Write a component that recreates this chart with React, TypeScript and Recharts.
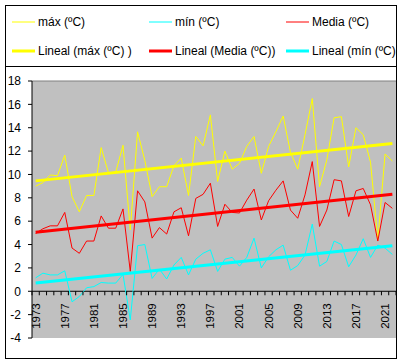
import React from 'react'
import { LineChart, Line, XAxis, YAxis, CartesianGrid, ReferenceLine } from 'recharts'

const years = [
  1973, 1974, 1975, 1976, 1977, 1978, 1979, 1980, 1981, 1982,
  1983, 1984, 1985, 1986, 1987, 1988, 1989, 1990, 1991, 1992,
  1993, 1994, 1995, 1996, 1997, 1998, 1999, 2000, 2001, 2002,
  2003, 2004, 2005, 2006, 2007, 2008, 2009, 2010, 2011, 2012,
  2013, 2014, 2015, 2016, 2017, 2018, 2019, 2020, 2021, 2022,
]

const maxT = [
  9.0, 9.3, 9.95, 9.9, 11.65, 8.1, 6.8, 8.2, 8.2, 12.3,
  10.15, 10.2, 12.5, 5.25, 13.65, 11.2, 8.1, 8.95, 8.95, 10.75,
  11.4, 8.2, 13.25, 12.45, 15.1, 9.4, 12.0, 10.45, 10.95, 12.4,
  13.25, 10.1, 12.4, 13.65, 15.0, 11.9, 10.45, 13.4, 16.5, 8.95,
  11.25, 14.85, 14.95, 10.65, 14.0, 13.4, 11.05, 4.4, 11.75, 11.15,
]

const minT = [
  1.15, 1.55, 1.4, 1.4, 1.75, -0.9, -0.45, 0.3, 0.4, 0.75,
  0.7, 0.7, 1.45, -2.45, 3.9, 4.0, 1.1, 1.9, 1.05, 2.25,
  2.9, 1.4, 2.75, 3.25, 3.55, 1.7, 2.75, 2.9, 2.15, 2.9,
  4.55, 2.0, 2.95, 3.55, 3.95, 1.8, 2.2, 3.1, 5.75, 2.15,
  2.55, 4.3, 4.0, 2.1, 3.1, 4.5, 2.9, 3.95, 3.7, 3.15,
]

const mediaT = [
  4.95, 5.35, 5.6, 5.6, 6.75, 3.7, 3.25, 4.3, 4.3, 6.45,
  5.4, 5.4, 7.05, 1.7, 8.6, 7.65, 4.55, 5.45, 4.9, 6.8,
  7.15, 4.75, 7.95, 8.3, 9.25, 5.55, 7.45, 6.75, 6.7, 7.8,
  8.75, 6.1, 7.75, 8.65, 9.45, 6.95, 6.25, 8.25, 11.1, 5.55,
  6.95, 9.55, 9.45, 6.4, 8.6, 8.8, 7.4, 4.3, 7.6, 7.1,
]

// trend lines: value at first and last year
const trendMax = [9.45, 12.65]
const trendMedia = [5.05, 8.3]
const trendMin = [0.7, 3.9]

const yTicks = [-4, -2, 0, 2, 4, 6, 8, 10, 12, 14, 16, 18]
const labelYears = [1973, 1977, 1981, 1985, 1989, 1993, 1997, 2001, 2005, 2009, 2013, 2017, 2021]

const last = years.length - 1
const data = years.map((year, i) => ({
  year,
  max: maxT[i],
  min: minT[i],
  media: mediaT[i],
  tMax: i === 0 ? trendMax[0] : i === last ? trendMax[1] : null,
  tMedia: i === 0 ? trendMedia[0] : i === last ? trendMedia[1] : null,
  tMin: i === 0 ? trendMin[0] : i === last ? trendMin[1] : null,
}))

const boundaries = [...years.map(y => y - 0.5), years[last] + 0.5]

const W = 402
const H = 364
const M = { top: 81, right: 6, bottom: 0, left: 5 }
const Y_W = 27
const X_H = 26
const PLOT_W = W - M.left - M.right - Y_W
const PLOT_H = H - M.top - M.bottom - X_H
const HALF = PLOT_W / years.length / 2
const Y_MIN = -4
const Y_MAX = 18
// the x axis crosses at 0, not at the bottom of the plot
const ZERO_SHIFT = PLOT_H * (0 - Y_MIN) / (Y_MAX - Y_MIN)

const font = "'Liberation Sans', Arial, sans-serif"

function YearTick(props: any) {
  const { x, y, payload } = props
  const zeroY = y - ZERO_SHIFT
  const yr = payload.value + 0.5
  return (
    <g>
      <line x1={x} x2={x} y1={zeroY} y2={zeroY + 4} stroke="#000" strokeWidth={1} />
      {labelYears.includes(yr) && (
        <text
          transform={`translate(${x + HALF + 4}, ${zeroY + 12}) rotate(-90)`}
          textAnchor="end" fontSize={11.5} fill="#000" fontFamily={font}
        >{yr}</text>
      )}
    </g>
  )
}

const legendItems = [
  { label: 'máx (ºC)', color: '#FFFF00', w: 1, x: 12, y: 22 },
  { label: 'mín (ºC)', color: '#00FFFF', w: 1, x: 149, y: 22 },
  { label: 'Media (ºC)', color: '#FF0000', w: 1, x: 286, y: 22 },
  { label: 'Lineal (máx (ºC) )', color: '#FFFF00', w: 3, x: 12, y: 51 },
  { label: 'Lineal (Media (ºC))', color: '#FF0000', w: 3, x: 149, y: 51 },
  { label: 'Lineal (mín (ºC)', color: '#00FFFF', w: 3, x: 286, y: 51 },
]

export default function App() {
  return (
    <div style={{ position: 'absolute', left: 0, top: 0, width: W, height: H, background: '#fff', fontFamily: font }}>
      <LineChart width={W} height={H} data={data} margin={M}>
        <CartesianGrid horizontal={false} vertical={false} fill="#C0C0C0" />
        <XAxis
          dataKey="year" type="number" domain={[boundaries[0], boundaries[boundaries.length - 1]]}
          ticks={boundaries} interval={0} height={X_H}
          axisLine={false} tickLine={false} tickSize={0} tickMargin={0}
          tick={<YearTick />}
        />
        <YAxis
          domain={[Y_MIN, Y_MAX]} ticks={yTicks} interval={0} width={Y_W}
          axisLine={{ stroke: '#000' }} tickLine={{ stroke: '#000' }} tickSize={4} tickMargin={7}
          tick={{ fill: '#000', fontSize: 12, fontFamily: font }}
        />
        <ReferenceLine y={Y_MAX} stroke="#808080" strokeWidth={1} />
        <ReferenceLine y={0} stroke="#000" strokeWidth={1} />
        <Line type="linear" dataKey="max" stroke="#FFFF00" strokeWidth={1} dot={false} isAnimationActive={false} />
        <Line type="linear" dataKey="min" stroke="#00FFFF" strokeWidth={1} dot={false} isAnimationActive={false} />
        <Line type="linear" dataKey="media" stroke="#FF0000" strokeWidth={1} dot={false} isAnimationActive={false} />
        <Line type="linear" dataKey="tMax" stroke="#FFFF00" strokeWidth={3} dot={false} connectNulls isAnimationActive={false} />
        <Line type="linear" dataKey="tMedia" stroke="#FF0000" strokeWidth={3} dot={false} connectNulls isAnimationActive={false} />
        <Line type="linear" dataKey="tMin" stroke="#00FFFF" strokeWidth={3} dot={false} connectNulls isAnimationActive={false} />
      </LineChart>

      <svg width={W} height={H} style={{ position: 'absolute', left: 0, top: 0, pointerEvents: 'none' }}>
        <defs>
          <clipPath id="legendClip">
            <rect x={6} y={6} width={390} height={60} />
          </clipPath>
        </defs>
        <g clipPath="url(#legendClip)">
          {legendItems.map(it => (
            <g key={it.label}>
              <line x1={it.x} x2={it.x + 23} y1={it.y} y2={it.y} stroke={it.color} strokeWidth={it.w} />
              <text x={it.x + 26} y={it.y + 4} fontSize={12} fill="#000" fontFamily={font}>{it.label}</text>
            </g>
          ))}
        </g>
        <rect x={5.5} y={5.5} width={391} height={353} fill="none" stroke="#000" strokeWidth={1} />
        <line x1={5} x2={397} y1={66.5} y2={66.5} stroke="#000" strokeWidth={1} />
      </svg>
    </div>
  )
}
